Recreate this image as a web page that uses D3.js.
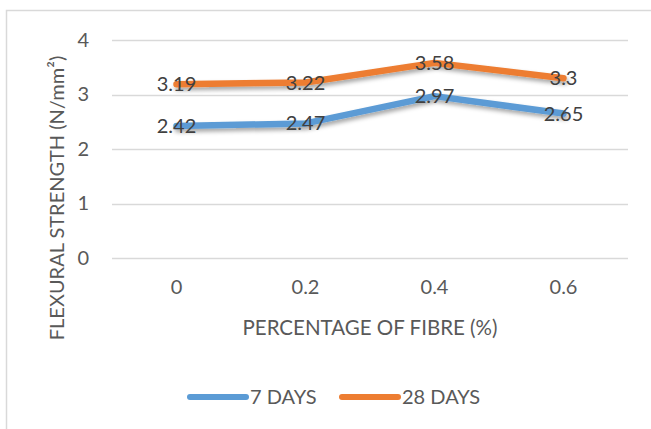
<!DOCTYPE html>
<html>
<head>
<meta charset="utf-8">
<title>flexuralStrength</title>
<style>
	body { margin: 0; background: #fff; }
	text { font-family: Lato, "Open Sans", sans-serif; }
</style>
</head>
<body>
<div id="chart"></div>
<script src="https://d3js.org/d3.v7.min.js"></script>
<script>

var categories = ['0', '0.2', '0.4', '0.6'];
var days7 = [2.42, 2.47, 2.97, 2.65];
var days28 = [3.19, 3.22, 3.58, 3.3];
var yTicks = [0, 1, 2, 3, 4];
var seriesNames = ['7 DAYS', '28 DAYS'];
var seriesColors = ['#5b9bd5', '#ed7d31'];

var width = 651;
var height = 429;

var svg = d3.select('#chart')
	.append('svg')
	.attr('width', width)
	.attr('height', height);

// chart frame (right and bottom edges fall outside the picture)
svg.append('rect')
	.attr('x', 6.5)
	.attr('y', 10.5)
	.attr('width', 700)
	.attr('height', 500)
	.attr('fill', 'none')
	.attr('stroke', '#d9d9d9')
	.attr('stroke-width', 1.5);

var defs = svg.append('defs');
var shadow = defs.append('filter')
	.attr('id', 'shadow')
	.attr('x', '-10%').attr('y', '-50%')
	.attr('width', '120%').attr('height', '200%');
shadow.append('feDropShadow')
	.attr('dx', 1.5)
	.attr('dy', 3)
	.attr('stdDeviation', 2)
	.attr('flood-color', '#000')
	.attr('flood-opacity', 0.35);

var x = d3.scaleBand()
	.domain(categories)
	.range([112, 628]);

var y = d3.scaleLinear()
	.domain([0, 4])
	.range([258, 40]);

// gridlines
svg.selectAll('.grid')
	.data(yTicks)
	.enter()
	.append('line')
	.attr('x1', 112)
	.attr('x2', 628)
	.attr('y1', function(d){ return Math.round(y(d)) + 0.5 })
	.attr('y2', function(d){ return Math.round(y(d)) + 0.5 })
	.attr('stroke', '#d9d9d9')
	.attr('stroke-width', 1.5);

// y axis
var yAxis = svg.append('g')
	.attr('transform', 'translate(112,0)')
	.call(d3.axisLeft(y).tickValues(yTicks).tickFormat(d3.format('d')).tickSize(0).tickPadding(23));
yAxis.select('.domain').remove();
yAxis.selectAll('text')
	.attr('fill', '#595959')
	.style('font-size', '20px')
	.style('font-family', 'Lato');

// x axis
var xAxis = svg.append('g')
	.attr('transform', 'translate(0,258)')
	.call(d3.axisBottom(x).tickSize(0).tickPadding(22));
xAxis.select('.domain').remove();
xAxis.selectAll('text')
	.attr('fill', '#595959')
	.style('font-size', '20px')
	.style('font-family', 'Lato');

// axis titles
svg.append('text')
	.attr('x', 370)
	.attr('y', 335)
	.attr('text-anchor', 'middle')
	.attr('fill', '#595959')
	.attr('font-size', 20.5)
	.text('PERCENTAGE OF FIBRE (%)');

svg.append('text')
	.attr('transform', 'translate(64,198) rotate(-90)')
	.attr('text-anchor', 'middle')
	.attr('fill', '#595959')
	.attr('font-size', 20)
	.text('FLEXURAL STRENGTH (N/mm²)');

var line = d3.line()
	.x(function(d, i){ return x(categories[i]) + x.bandwidth() / 2 })
	.y(function(d){ return y(d) });

var series = [days7, days28];

svg.selectAll('.series')
	.data(series)
	.enter()
	.append('path')
	.attr('class', 'series')
	.attr('d', line)
	.attr('fill', 'none')
	.attr('stroke', function(d, i){ return seriesColors[i] })
	.attr('stroke-width', 6.5)
	.attr('stroke-linecap', 'round')
	.attr('stroke-linejoin', 'round')
	.attr('filter', 'url(#shadow)');

// data labels
series.forEach(function(values){
	svg.selectAll(null)
		.data(values)
		.enter()
		.append('text')
		.attr('x', function(d, i){ return x(categories[i]) + x.bandwidth() / 2 })
		.attr('y', function(d){ return y(d) })
		.attr('dy', '0.35em')
		.attr('text-anchor', 'middle')
		.attr('fill', '#404040')
		.attr('font-size', 20)
		.text(function(d){ return d });
});

// legend
var legendX = [190, 342];
var legend = svg.selectAll('.legend')
	.data(seriesNames)
	.enter()
	.append('g')
	.attr('transform', function(d, i){ return 'translate(' + legendX[i] + ',397)' });

legend.append('line')
	.attr('x1', 0)
	.attr('x2', 56)
	.attr('stroke', function(d, i){ return seriesColors[i] })
	.attr('stroke-width', 6)
	.attr('stroke-linecap', 'round');

legend.append('text')
	.attr('x', 60)
	.attr('dy', '0.35em')
	.attr('fill', '#595959')
	.attr('font-size', 20)
	.text(function(d){ return d });

</script>
</body>
</html>
